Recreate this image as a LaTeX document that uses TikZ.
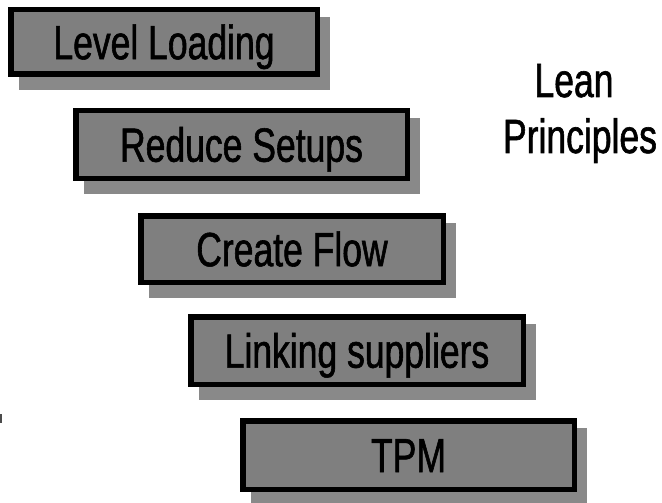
\documentclass[tikz,border=0pt]{standalone}
\usepackage{fontspec}
\usetikzlibrary{calc,backgrounds}
\newfontfamily\narrowsans[FakeStretch=0.74,FakeBold=1.2]{Liberation Sans}

\definecolor{boxfill}{RGB}{127,127,127}
\definecolor{boxshadow}{RGB}{137,137,137}

\tikzset{
  principle/.style={
    draw=black, line width=5.5pt, fill=boxfill, outer sep=2.75pt,
    inner sep=0pt, text height=34.4pt, text depth=0pt,
    font=\narrowsans\fontsize{48}{56}\selectfont
  },
  heading/.style={
    inner sep=0pt, anchor=base,
    font=\narrowsans\fontsize{48}{56}\selectfont
  },
  dropbox/.style={fill=boxshadow}
}

\newcommand{\principlebox}[5]{%
  % #1 name, #2-#3 top-left corner, #4-#5 bottom-right corner (outer edges)
  \node[principle, minimum width={#4-#2-5.5}, minimum height={#5-#3-5.5}]
    (#1) at ({(#2+#4)/2},{(#3+#5)/2}) {\csname label#1\endcsname};
}

\def\labelleveling{Level Loading}
\def\labelsetups{Reduce Setups}
\def\labelflow{Create Flow}
\def\labelsuppliers{Linking suppliers}
\def\labeltpm{TPM}

\begin{document}
\begin{tikzpicture}[x=1pt,y=-1pt]
  \useasboundingbox (0,0) rectangle (662,503);

  % staircase of principles
  \principlebox{leveling}{8}{7}{320}{77}
  \principlebox{setups}{73}{108}{410}{181}
  \principlebox{flow}{138}{213}{446}{285}
  \principlebox{suppliers}{188}{314}{526}{387}
  \principlebox{tpm}{240}{418}{577}{492}

  % solid drop shadows behind every box
  \begin{scope}[on background layer]
    \foreach \n in {leveling,setups,flow,suppliers,tpm}
      \fill[dropbox] ($(\n.north west)+(11,10)$) rectangle ($(\n.south east)+(10,13)$);
  \end{scope}

  % title
  \node[heading] (lean) at (574,97) {Lean};
  \node[heading] (principles) at (580,153) {Principles};

  % stray mark at the left edge
  \draw[line width=2pt, black!70] (1,414) -- (1,423);
\end{tikzpicture}
\end{document}
